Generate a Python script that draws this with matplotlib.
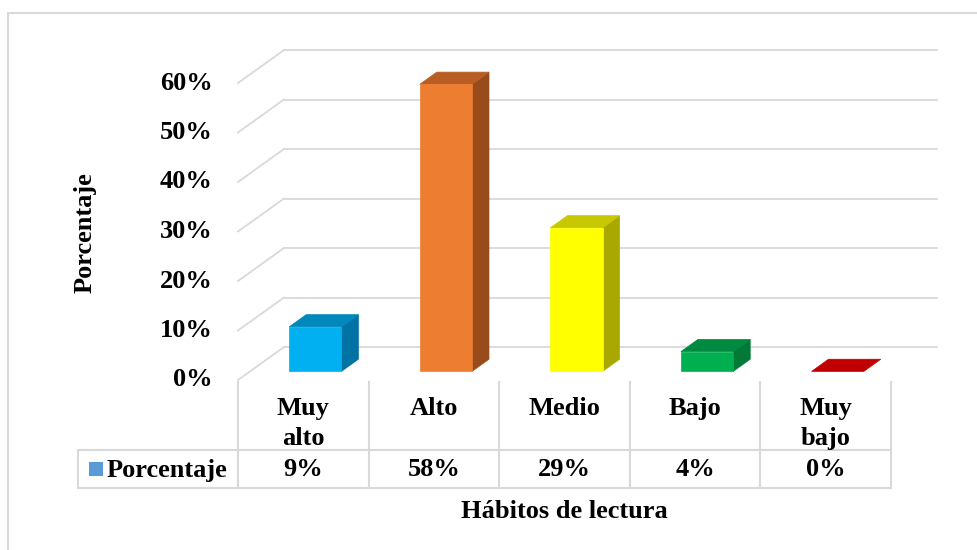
import matplotlib
matplotlib.use("Agg")
import matplotlib.pyplot as plt
from matplotlib.patches import Polygon, Rectangle
from matplotlib.transforms import blended_transform_factory

# ---------------- data ----------------
categories = ["Muy\nalto", "Alto", "Medio", "Bajo", "Muy\nbajo"]
values = [9, 58, 29, 4, 0]            # percent
value_labels = ["9%", "58%", "29%", "4%", "0%"]
y_ticks = [0, 10, 20, 30, 40, 50, 60]
series_name = "Porcentaje"
x_title = "Hábitos de lectura"
y_title = "Porcentaje"

# face colours: (front, top, side)
face_colors = [
    ("#00B0F0", "#0088BD", "#0072A3"),
    ("#ED7D31", "#B85E25", "#984C1C"),
    ("#FFFF00", "#C8C800", "#A8A800"),
    ("#00B050", "#008A3F", "#007A36"),
    ("#C00000", "#C00000", "#900000"),
]
legend_key_color = "#5B9BD5"
grid_color = "#D9D9D9"

plt.rcParams["font.family"] = ["Liberation Serif", "DejaVu Serif"]
plt.rcParams["font.weight"] = "bold"
FS = 19

W, H = 978, 550
fig = plt.figure(figsize=(W / 100, H / 100), dpi=100)

# layout axes in pixel coordinates
lay = fig.add_axes([0, 0, 1, 1])
lay.set_xlim(0, W)
lay.set_ylim(H, 0)
lay.axis("off")

# data axes (front plane: x = category index, y = percent)
X_LEFT, X_RIGHT = 238, 891
Y_ZERO, Y_TOP = 380, 83
n = len(categories)
cat_px = (X_RIGHT - X_LEFT) / n
pct_px = (Y_ZERO - Y_TOP) / max(y_ticks)
ax = fig.add_axes([0, 0, 1, 1])
ax.set_xlim(-X_LEFT / cat_px, (W - X_LEFT) / cat_px)
ax.set_ylim(-(H - Y_ZERO) / pct_px, Y_ZERO / pct_px)
ax.axis("off")
ax.patch.set_alpha(0)

# depth projection (in data units per unit depth)
DX = 46 / cat_px
DY = 33 / pct_px

# outer frame
lay.plot([8, 8, W + 5], [H + 5, 13, 13], color=grid_color, lw=1.5, solid_capstyle="butt")

# gridlines
for v in y_ticks:
    ax.plot([0, DX], [v, v + DY], color=grid_color, lw=1.3, zorder=1)
    ax.plot([DX, n + DX], [v + DY, v + DY], color=grid_color, lw=1.3, zorder=1)

# bars
BAR_W = 0.40
DF, DB = 0.26, 0.63
for i, (v, cols) in enumerate(zip(values, face_colors)):
    front, top, side = cols
    xl = i + 0.5 - BAR_W / 2
    xr = i + 0.5 + BAR_W / 2
    fx, fy = DF * DX, DF * DY
    bx, by = DB * DX, DB * DY
    if v > 0:
        ax.add_patch(Polygon([(xr + fx, fy), (xr + fx, v + fy), (xr + bx, v + by), (xr + bx, by)],
                             closed=True, facecolor=side, edgecolor=side, lw=0.5, zorder=3))
    ax.add_patch(Polygon([(xl + fx, v + fy), (xr + fx, v + fy), (xr + bx, v + by), (xl + bx, v + by)],
                         closed=True, facecolor=top, edgecolor=top, lw=0.5, zorder=3))
    if v > 0:
        ax.add_patch(Polygon([(xl + fx, fy), (xr + fx, fy), (xr + fx, v + fy), (xl + fx, v + fy)],
                             closed=True, facecolor=front, edgecolor=front, lw=0.5, zorder=4))

# y tick labels
ytr = blended_transform_factory(lay.transData, ax.transData)
for v in y_ticks:
    ax.text(213, v, f"{v}%", transform=ytr, ha="right", va="center", fontsize=FS, fontweight="bold")

# data table
ttr = blended_transform_factory(ax.transData, lay.transData)
ROW_TOP, ROW_MID, ROW_BOT = 382, 450, 488
LEG_LEFT = 78
for i in range(n + 1):
    ax.plot([i, i], [ROW_TOP, ROW_BOT], transform=ttr, color=grid_color, lw=1.5, zorder=2)
for yy in (ROW_MID, ROW_BOT):
    lay.plot([LEG_LEFT, X_RIGHT], [yy, yy], color=grid_color, lw=1.5)
lay.plot([LEG_LEFT, LEG_LEFT], [ROW_MID, ROW_BOT], color=grid_color, lw=1.5)

for i, (c, lab) in enumerate(zip(categories, value_labels)):
    ax.text(i + 0.5, 397, c, transform=ttr, ha="center", va="top", fontsize=FS,
            fontweight="bold", linespacing=1.4)
    ax.text(i + 0.5, 470, lab, transform=ttr, ha="center", va="center", fontsize=FS,
            fontweight="bold")

# legend key in table
lay.add_patch(Rectangle((89, 462), 14, 14, facecolor=legend_key_color, edgecolor="none"))
lay.text(107, 470, series_name, ha="left", va="center", fontsize=FS, fontweight="bold")

# axis titles
lay.text((X_LEFT + X_RIGHT) / 2, 511, x_title, ha="center", va="center", fontsize=FS, fontweight="bold")
lay.text(85, 233, y_title, ha="center", va="center", rotation=90, fontsize=FS, fontweight="bold")

fig.savefig("out.png", dpi=100)
